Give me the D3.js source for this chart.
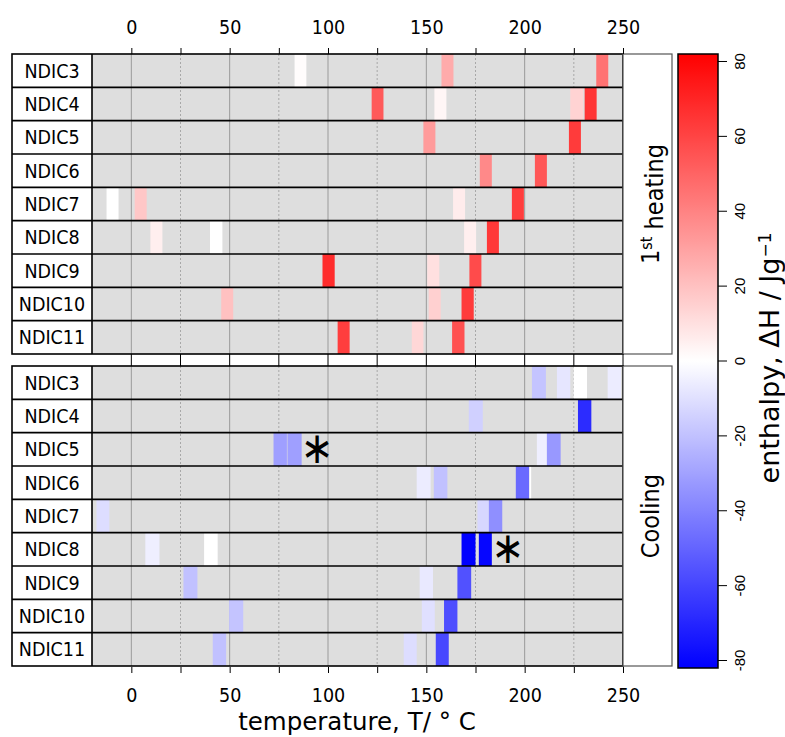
<!DOCTYPE html>
<html>
<head>
<meta charset="utf-8">
<script src="https://cdn.jsdelivr.net/npm/d3@7"></script>
<style>
body { margin: 0; background: #fff; }
text { font-family: "DejaVu Sans Condensed", "DejaVu Sans", sans-serif; }
</style>
</head>
<body>
<script>
var samples = ["NDIC3","NDIC4","NDIC5","NDIC6","NDIC7","NDIC8","NDIC9","NDIC10","NDIC11"];
var majorTicks = [0, 50, 100, 150, 200, 250];
var minorTicks = [25, 75, 125, 175, 225];
var cbTicks = [-80, -60, -40, -20, 0, 20, 40, 60, 80];

// 1st heating: sample, onset T, end T, enthalpy
var heatSample = ["NDIC3","NDIC3","NDIC3","NDIC4","NDIC4","NDIC4","NDIC4","NDIC5","NDIC5","NDIC6","NDIC6",
  "NDIC7","NDIC7","NDIC7","NDIC7","NDIC8","NDIC8","NDIC8","NDIC8","NDIC9","NDIC9","NDIC9",
  "NDIC10","NDIC10","NDIC10","NDIC11","NDIC11","NDIC11"];
var heatFrom = [83, 157.7, 236.4, 122.2, 154.1, 223.2, 230.5, 148.5, 222.5, 177.2, 205.2,
  -12.6, 1.7, 163.6, 193.5, 9.7, 40, 169.2, 180.8, 97.2, 150.5, 171.9,
  45.7, 151.2, 167.9, 104.9, 142.6, 163.1];
var heatTo = [89, 163.8, 242.5, 128.2, 160.2, 229.8, 236.6, 154.6, 228.6, 183.3, 211.3,
  -6.5, 7.8, 169.7, 199.6, 15.8, 46.3, 175.3, 186.9, 103.4, 156.6, 178,
  51.8, 157.3, 174.1, 111, 148.5, 169.4];
var heatDH = [1, 27, 45, 53, 3, 14, 65, 32, 63, 38, 54,
  0, 18, 6, 62, 5, 0, 5, 64, 68, 10, 58,
  20, 15, 63, 62, 13, 56];

// cooling
var coolSample = ["NDIC3","NDIC3","NDIC3","NDIC3","NDIC4","NDIC4","NDIC5","NDIC5","NDIC5","NDIC5",
  "NDIC6","NDIC6","NDIC6","NDIC6","NDIC7","NDIC7","NDIC7","NDIC8","NDIC8","NDIC8","NDIC8",
  "NDIC9","NDIC9","NDIC9","NDIC10","NDIC10","NDIC10","NDIC11","NDIC11","NDIC11"];
var coolFrom = [203.7, 216.4, 224.9, 242.2, 171.6, 227.1, 72.3, 79.4, 206.2, 211.3,
  145.1, 153.8, 195.5, 202.4, -17.7, 176, 181.8, 7.1, 37, 167.9, 176.7,
  26.5, 146.6, 165.8, 49.7, 147.7, 159, 41.4, 138.5, 154.8];
var coolTo = [210.8, 223.2, 231.7, 249, 178.7, 233.9, 79.1, 86.6, 211.3, 218.3,
  152.2, 160.7, 202.3, 203.3, -11.2, 181.8, 188.6, 14.3, 43.9, 175, 183.3,
  33.6, 153.4, 172.8, 56.9, 154.3, 165.8, 48.2, 145.1, 161.4];
var coolDH = [-19, -8, 0, -6, -15, -68, -31, -31, -5, -33,
  -6, -20, -48, 0, -11, -13, -36, -5, 0, -82, -80,
  -20, -7, -56, -19, -10, -57, -20, -11, -59];

// asterisk marks on cooling
var starSample = ["NDIC5", "NDIC8"];
var starT = [94.5, 191.4];

var svg = d3.select("body").append("svg").attr("width", 785).attr("height", 737);

var x = d3.scaleLinear().domain([-20, 250]).range([92, 623]);
var y = d3.scaleBand().domain(samples).range([0, 300]);
var color = d3.scaleLinear().domain([-82, 0, 82]).range(["#0000ff", "#ffffff", "#ff0000"]);

function cells(sm, fr, to, dh) {
  return sm.map(function(s, i) { return {s: s, a: fr[i], b: to[i], v: dh[i]}; });
}

var panels = [
  {top: 54, data: cells(heatSample, heatFrom, heatTo, heatDH), label: "heat"},
  {top: 366, data: cells(coolSample, coolFrom, coolTo, coolDH), label: "Cooling"}
];

panels.forEach(function(p) {
  var g = svg.append("g").attr("transform", "translate(0," + p.top + ")");
  g.append("rect").attr("x", x(-20)).attr("y", 0).attr("width", x(250) - x(-20)).attr("height", 300).attr("fill", "#dedede");
  g.selectAll(".major").data(majorTicks).enter().append("line")
    .attr("x1", x).attr("x2", x).attr("y1", 0).attr("y2", 300)
    .attr("stroke", "#9a9a9a").attr("stroke-width", 1);
  g.selectAll(".minor").data(minorTicks).enter().append("line")
    .attr("x1", x).attr("x2", x).attr("y1", 0).attr("y2", 300)
    .attr("stroke", "#a8a8a8").attr("stroke-width", 1).attr("stroke-dasharray", "2,2");
  g.selectAll(".cell").data(p.data).enter().append("rect")
    .attr("x", function(d) { return x(d.a); })
    .attr("width", function(d) { return x(d.b) - x(d.a); })
    .attr("y", function(d) { return y(d.s); })
    .attr("height", y.bandwidth())
    .attr("fill", function(d) { return color(d.v); });
  g.selectAll(".lab").data(samples).enter().append("rect")
    .attr("x", 12).attr("y", function(d) { return y(d); })
    .attr("width", 80).attr("height", y.bandwidth())
    .attr("fill", "#fff");
  g.selectAll(".labt").data(samples).enter().append("text")
    .attr("x", 52).attr("y", function(d) { return y(d) + y.bandwidth() / 2; })
    .attr("dy", "0.36em").attr("text-anchor", "middle")
    .style("font-size", "19.5px").text(function(d) { return d; });
  g.selectAll(".row").data(samples.slice(1)).enter().append("line")
    .attr("x1", 12).attr("x2", 623)
    .attr("y1", function(d) { return y(d); }).attr("y2", function(d) { return y(d); })
    .attr("stroke", "#000").attr("stroke-width", 1.6);
  g.append("line").attr("x1", 92).attr("x2", 92).attr("y1", 0).attr("y2", 300).attr("stroke", "#000").attr("stroke-width", 1.6);
  g.append("rect").attr("x", 12).attr("y", 0).attr("width", 611).attr("height", 300)
    .attr("fill", "none").attr("stroke", "#000").attr("stroke-width", 1.6);
  // strip
  g.append("rect").attr("x", 623).attr("y", 0).attr("width", 49).attr("height", 300)
    .attr("fill", "#fff").attr("stroke", "#555").attr("stroke-width", 1.2);
  var st = g.append("text").attr("transform", "translate(659,150) rotate(-90)")
    .attr("text-anchor", "middle").style("font-size", "25px");
  if (p.label == "heat") {
    st.append("tspan").text("1");
    st.append("tspan").attr("dy", "-0.45em").style("font-size", "16px").text("st");
    st.append("tspan").attr("dy", "0.45em").text(" heating");
  } else {
    st.text(p.label);
  }
  if (p.label == "Cooling") {
    g.selectAll(".star").data(starSample).enter().append("text")
      .attr("x", function(d, i) { return x(starT[i]); })
      .attr("y", function(d) { return y(d) + y.bandwidth() / 2; })
      .attr("dy", "0.32em").attr("text-anchor", "middle")
      .style("font-size", "44px").text("\u2217");
  }
});

var allTicks = majorTicks.concat(minorTicks);
var fmt = function(d) { return majorTicks.indexOf(d) >= 0 ? d : ""; };

var axTop = svg.append("g").attr("transform", "translate(0,54)")
  .call(d3.axisTop(x).tickValues(allTicks).tickFormat(fmt).tickSize(6).tickPadding(14));
var axBot = svg.append("g").attr("transform", "translate(0,667)")
  .call(d3.axisBottom(x).tickValues(allTicks).tickFormat(fmt).tickSize(6).tickPadding(15));
[axTop, axBot].forEach(function(a) {
  a.select(".domain").remove();
  a.selectAll("line").attr("stroke", "#000");
  a.selectAll("text").style("font-size", "19.5px").style("font-family", "'DejaVu Sans Condensed','DejaVu Sans',sans-serif").attr("fill", "#000");
});
svg.selectAll(".midtick").data(allTicks).enter().append("line")
  .attr("x1", x).attr("x2", x).attr("y1", 354).attr("y2", 366)
  .attr("stroke", "#000");

svg.append("text").attr("x", 357).attr("y", 730).attr("text-anchor", "middle")
  .style("font-family", "'DejaVu Sans',sans-serif")
  .style("font-size", "24.5px").text("temperature, T/ \u00b0 C");

// colour bar
var cb = d3.scaleLinear().domain([-82, 82]).range([668, 54]);
var defs = svg.append("defs");
var grad = defs.append("linearGradient").attr("id", "cbg")
  .attr("x1", 0).attr("x2", 0).attr("y1", 1).attr("y2", 0);
d3.range(-82, 83, 2).forEach(function(v) {
  grad.append("stop").attr("offset", (v + 82) / 164).attr("stop-color", color(v));
});
svg.append("rect").attr("x", 678).attr("y", cb(82)).attr("width", 40).attr("height", cb(-82) - cb(82))
  .attr("fill", "url(#cbg)").attr("stroke", "#000").attr("stroke-width", 1.5);
svg.selectAll(".cbt").data(cbTicks).enter().append("line")
  .attr("x1", 718).attr("x2", 727).attr("y1", cb).attr("y2", cb)
  .attr("stroke", "#000");
svg.selectAll(".cbl").data(cbTicks).enter().append("text")
  .attr("transform", function(d) { return "translate(740," + cb(d) + ") rotate(-90)"; })
  .attr("text-anchor", "middle").attr("dy", "0.35em")
  .style("font-family", "'Liberation Sans Narrow','Liberation Sans',sans-serif")
  .style("font-size", "15px").text(function(d) { return d; });
var ct = svg.append("text").attr("transform", "translate(779,358) rotate(-90)")
  .attr("text-anchor", "middle").style("font-family", "'DejaVu Sans',sans-serif").style("font-size", "27px");
ct.append("tspan").text("enthalpy, \u0394H / Jg");
ct.append("tspan").attr("dy", "-0.5em").style("font-size", "17px").text("\u22121");
</script>
</body>
</html>
